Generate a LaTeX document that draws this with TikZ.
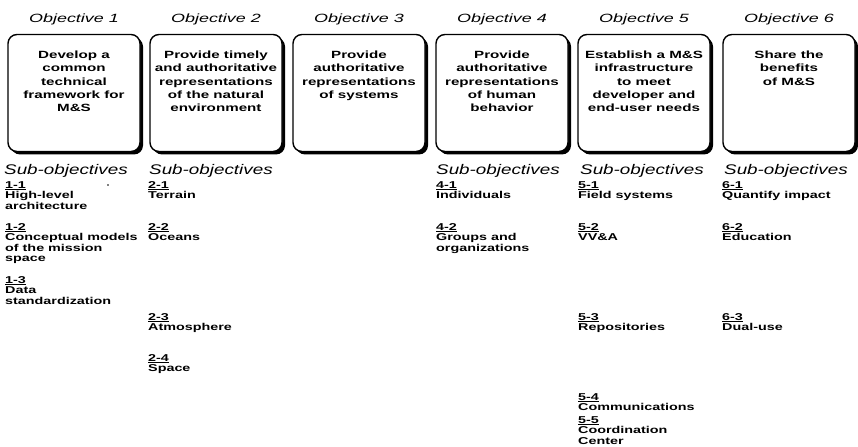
\documentclass[tikz,border=0pt]{standalone}
\usepackage{fontspec}
\setmainfont{Liberation Sans}
% widened faces for the chart lettering
\newfontfamily\titlefont[FakeStretch=1.5]{Liberation Sans}
\newfontfamily\headfont[FakeStretch=1.35]{Liberation Sans}
\newfontfamily\boxfont[FakeStretch=1.45]{Liberation Sans}
\newfontfamily\itemfont[FakeStretch=1.44]{Liberation Sans}
\usetikzlibrary{shadows}
\begin{document}
\begin{tikzpicture}[x=1bp,y=-1bp,
  objbox/.style={draw, line width=1.4bp, rounded corners=9bp, fill=white,
    minimum width=132bp, minimum height=117bp, inner sep=0pt,
    drop shadow={shadow xshift=3bp, shadow yshift=-3bp, fill=black, opacity=1}},
  objtitle/.style={font=\titlefont\itshape\fontsize{12}{14}\selectfont, inner sep=0pt},
  boxtext/.style={font=\boxfont\bfseries\fontsize{10.5}{13.2}\selectfont, align=center,
    anchor=north, inner sep=0pt},
  subhead/.style={font=\headfont\itshape\fontsize{14}{16}\selectfont, anchor=base west,
    inner sep=0pt},
  subitem/.style={font=\itemfont\bfseries\fontsize{10}{10.6}\selectfont, align=left,
    anchor=north west, inner sep=0pt}]
\useasboundingbox (0,0) rectangle (858,447);

% objective titles and frames
\foreach \i/\x in {1/74,2/216,3/359,4/502,5/644,6/789}{
  \node[objtitle] (h\i) at (\x,19) {Objective \i};
  \node[objbox] (b\i) at (\x,93) {};
}

% objective statements
\node[boxtext] (t1) at (74,51) {Develop a\\common\\technical\\framework for\\M\&S};
\node[boxtext] (t2) at (216,51) {Provide timely\\and authoritative\\representations\\of the natural\\environment};
\node[boxtext] (t3) at (359,51) {Provide\\authoritative\\representations\\of systems};
\node[boxtext] (t4) at (502,51) {Provide\\authoritative\\representations\\of human\\behavior};
\node[boxtext] (t5) at (644,51) {Establish a M\&S\\infrastructure\\to meet\\developer and\\end-user needs};
\node[boxtext] (t6) at (789,51) {Share the\\benefits\\of M\&S};

% sub-objective headings
\node[subhead] (s1) at (4,175) {Sub-objectives};
\node[subhead] (s2) at (149,175) {Sub-objectives};
\node[subhead] (s4) at (436,175) {Sub-objectives};
\node[subhead] (s5) at (580,175) {Sub-objectives};
\node[subhead] (s6) at (724,175) {Sub-objectives};

% column 1
\node[subitem] (i11) at (5,181) {\underline{1-1}\\High-level\\architecture};
\node[subitem] (i12) at (5,223) {\underline{1-2}\\Conceptual models\\of the mission\\space};
\node[subitem] (i13) at (5,276) {\underline{1-3}\\Data\\standardization};
\fill (108,185) circle (0.8bp);

% column 2
\node[subitem] (i21) at (148,181) {\underline{2-1}\\Terrain};
\node[subitem] (i22) at (148,223) {\underline{2-2}\\Oceans};
\node[subitem] (i23) at (148,313) {\underline{2-3}\\Atmosphere};
\node[subitem] (i24) at (148,354) {\underline{2-4}\\Space};

% column 4
\node[subitem] (i41) at (436,181) {\underline{4-1}\\Individuals};
\node[subitem] (i42) at (436,223) {\underline{4-2}\\Groups and\\organizations};

% column 5
\node[subitem] (i51) at (578,181) {\underline{5-1}\\Field systems};
\node[subitem] (i52) at (578,223) {\underline{5-2}\\VV\&A};
\node[subitem] (i53) at (578,313) {\underline{5-3}\\Repositories};
\node[subitem] (i54) at (578,393) {\underline{5-4}\\Communications};
\node[subitem] (i55) at (578,416) {\underline{5-5}\\Coordination\\Center};

% column 6
\node[subitem] (i61) at (722,181) {\underline{6-1}\\Quantify impact};
\node[subitem] (i62) at (722,223) {\underline{6-2}\\Education};
\node[subitem] (i63) at (722,313) {\underline{6-3}\\Dual-use};
\end{tikzpicture}
\end{document}
